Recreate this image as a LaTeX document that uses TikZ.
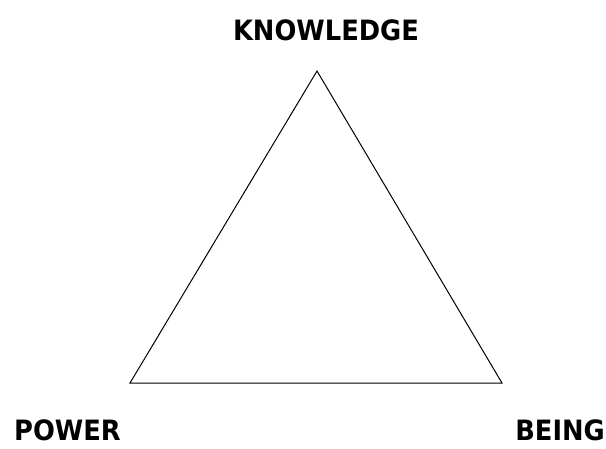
\documentclass[tikz,border=0pt]{standalone}
\usepackage{fontspec}
\setmainfont{DejaVu Sans}
\newfontfamily\lblfont[FakeStretch=0.92]{DejaVu Sans}
\begin{document}
\begin{tikzpicture}[x=1pt,y=-1pt,
  lbl/.style={font=\lblfont\bfseries\fontsize{28}{32}\selectfont, inner sep=0pt},
  tri/.style={draw=black, line width=1pt}]
\useasboundingbox (0,0) rectangle (606,448);
\coordinate (K) at (317,71);
\coordinate (P) at (130,383);
\coordinate (B) at (502,383);
\draw[tri] (K) -- (P) -- (B) -- cycle;
\node[lbl, anchor=base] (tk) at (326,40) {KNOWLEDGE};
\node[lbl, anchor=base west] (tp) at (14,440) {POWER};
\node[lbl, anchor=base east] (tb) at (605,440) {BEING};
\end{tikzpicture}
\end{document}
